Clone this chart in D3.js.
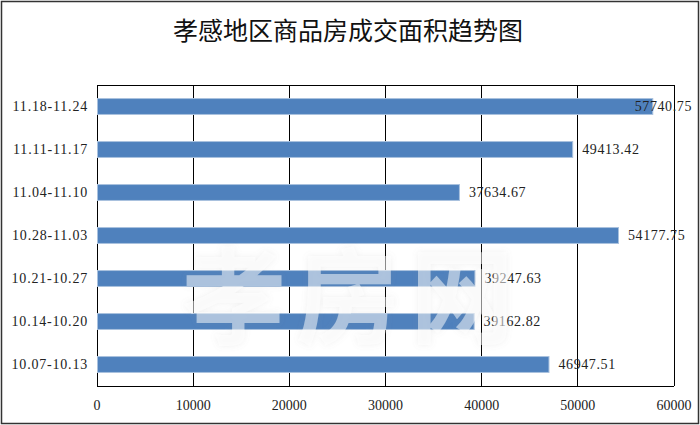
<!DOCTYPE html>
<html><head><meta charset="utf-8">
<script src="https://cdn.jsdelivr.net/npm/d3@7"></script>
<style>
html,body{margin:0;padding:0;background:#fff;}
svg{display:block;}
</style></head>
<body>
<svg id="chart" width="700" height="425"></svg>
<script>
const title = "孝感地区商品房成交面积趋势图";
const categories = ["10.07-10.13","10.14-10.20","10.21-10.27","10.28-11.03","11.04-11.10","11.11-11.17","11.18-11.24"];
const values = [46947.51, 39162.82, 39247.63, 54177.75, 37634.67, 49413.42, 57740.75];
const xTicks = [0, 10000, 20000, 30000, 40000, 50000, 60000];
const watermark = "孝房网";

const W = 700, H = 425;
const margin = {left: 97, right: 26, top: 85, bottom: 39};
const svg = d3.select("#chart");
const serif = "'Liberation Serif','Noto Sans CJK SC',serif";

const defs = svg.append("defs");
const f = defs.append("filter").attr("id","wmShadow").attr("x","-10%").attr("y","-10%").attr("width","120%").attr("height","120%");
f.append("feGaussianBlur").attr("in","SourceAlpha").attr("stdDeviation",3).attr("result","b");
f.append("feFlood").attr("flood-color","#888").attr("flood-opacity",0.25).attr("result","c");
f.append("feComposite").attr("in","c").attr("in2","b").attr("operator","in").attr("result","s");
const fm = f.append("feMerge");
fm.append("feMergeNode").attr("in","s");
fm.append("feMergeNode").attr("in","SourceGraphic");

// outer frame
svg.append("rect").attr("x",1.5).attr("y",1.5).attr("width",W-3).attr("height",H-3)
  .attr("fill","#fff").attr("stroke","#333").attr("stroke-width",1.5);

svg.append("text").attr("x",348).attr("y",40).attr("text-anchor","middle")
  .attr("font-family","'Noto Sans CJK SC',sans-serif").attr("font-size",25)
  .attr("fill","#111").text(title);

const x = d3.scaleLinear().domain([0,60000]).range([margin.left, W-margin.right]);
const y = d3.scaleBand().domain(categories.slice().reverse())
  .range([margin.top, H-margin.bottom]).paddingInner(0.63).paddingOuter(0.315);

// grid lines
svg.append("g").selectAll("line").data(xTicks).join("line")
  .attr("x1",d=>x(d)).attr("x2",d=>x(d)).attr("y1",margin.top).attr("y2",H-margin.bottom)
  .attr("stroke","#000").attr("stroke-width",1).attr("shape-rendering","crispEdges");
svg.append("line").attr("x1",margin.left).attr("x2",W-margin.right)
  .attr("y1",margin.top).attr("y2",margin.top).attr("stroke","#000").attr("shape-rendering","crispEdges");
svg.append("line").attr("x1",margin.left).attr("x2",W-margin.right)
  .attr("y1",H-margin.bottom).attr("y2",H-margin.bottom).attr("stroke","#000").attr("shape-rendering","crispEdges");

// bars
const data = categories.map((c,i)=>({c, v: values[i]}));
svg.append("g").selectAll("rect").data(data).join("rect")
  .attr("x",x(0)+0.5).attr("y",d=>y(d.c))
  .attr("width",d=>x(d.v)-x(0)).attr("height",y.bandwidth())
  .attr("fill","#4f81bd").attr("stroke","#a9c1de").attr("stroke-width",1);

// category labels
svg.append("g").selectAll("text").data(categories).join("text")
  .attr("x",margin.left-9).attr("y",d=>y(d)+y.bandwidth()/2).attr("dy","0.35em")
  .attr("text-anchor","end").attr("font-family",serif).attr("font-size",14)
  .attr("letter-spacing","0.8px").attr("fill","#222").text(d=>d);

// x tick labels
svg.append("g").selectAll("text").data(xTicks).join("text")
  .attr("x",d=>x(d)).attr("y",H-20).attr("dy","0.35em")
  .attr("text-anchor","middle").attr("font-family",serif).attr("font-size",14)
  .attr("fill","#222").text(d=>d);

// value labels
svg.append("g").selectAll("text").data(data).join("text")
  .attr("x",d=>x(d.v)+10).attr("y",d=>y(d.c)+y.bandwidth()/2).attr("dy","0.35em")
  .attr("font-family",serif).attr("font-size",14).attr("letter-spacing","0.6px")
  .attr("fill","#222").text(d=>d.v.toFixed(2))
  .each(function(){
    const len = this.getComputedTextLength();
    const x0 = +this.getAttribute("x");
    if (x0 + len > W - 8) this.setAttribute("x", W - 8 - len);
  });

// watermark
svg.append("text").attr("x",353).attr("y",299).attr("dy","0.36em")
  .attr("text-anchor","middle").attr("font-family","'Noto Sans CJK SC',sans-serif")
  .attr("font-weight","bold").attr("font-size",104).attr("letter-spacing","10px")
  .attr("fill","#fff").attr("fill-opacity",0.5)
  .attr("filter","url(#wmShadow)")
  .text(watermark);
</script>
</body></html>
